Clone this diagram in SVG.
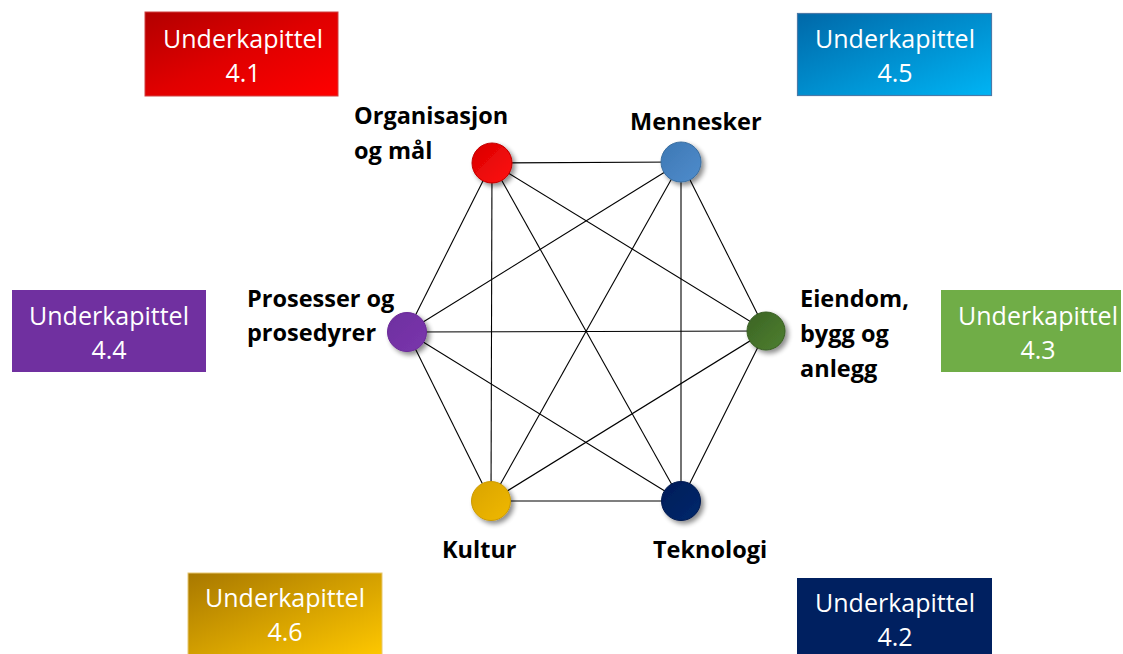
<svg xmlns="http://www.w3.org/2000/svg" width="1123" height="654" viewBox="0 0 1123 654">
  <style>
    .box-text { font-family: "Open Sans", Lato, "Liberation Sans", sans-serif; font-size: 25px; fill: #ffffff; text-anchor: middle; }
    .label { font-family: "Open Sans", Lato, "Liberation Sans", sans-serif; font-size: 23.5px; font-weight: bold; fill: #000000; }
    .edge { stroke: #000000; stroke-width: 1.1; fill: none; }
    .node { filter: url(#shadow); stroke-width: 1; }
  </style>
  <defs>
    <filter id="shadow" x="-50%" y="-50%" width="200%" height="200%">
      <feGaussianBlur in="SourceAlpha" stdDeviation="2.5"/>
      <feOffset dx="3" dy="3" result="b"/>
      <feComponentTransfer><feFuncA type="linear" slope="0.45"/></feComponentTransfer>
      <feMerge><feMergeNode/><feMergeNode in="SourceGraphic"/></feMerge>
    </filter>
    <linearGradient id="gRed" x1="0" y1="0" x2="1" y2="1">
      <stop offset="0" stop-color="#b20000"/><stop offset="0.5" stop-color="#e00000"/><stop offset="1" stop-color="#ff0000"/>
    </linearGradient>
    <linearGradient id="gBlue" x1="0" y1="0" x2="1" y2="1">
      <stop offset="0" stop-color="#0068a8"/><stop offset="1" stop-color="#00b4f4"/>
    </linearGradient>
    <linearGradient id="gGold" x1="0" y1="0" x2="1" y2="1">
      <stop offset="0" stop-color="#a87800"/><stop offset="1" stop-color="#ffc800"/>
    </linearGradient>
    <linearGradient id="nRed" x1="0" y1="0" x2="1" y2="1">
      <stop offset="0" stop-color="#d80000"/><stop offset="1" stop-color="#ff1010"/>
    </linearGradient>
    <linearGradient id="nBlue" x1="0" y1="0" x2="1" y2="1">
      <stop offset="0" stop-color="#3d78b4"/><stop offset="1" stop-color="#4f8ccc"/>
    </linearGradient>
    <linearGradient id="nPurple" x1="0" y1="0" x2="1" y2="1">
      <stop offset="0" stop-color="#6e2ea0"/><stop offset="1" stop-color="#7a36ac"/>
    </linearGradient>
    <linearGradient id="nGreen" x1="0" y1="0" x2="1" y2="1">
      <stop offset="0" stop-color="#3b6424"/><stop offset="1" stop-color="#4e7f30"/>
    </linearGradient>
    <linearGradient id="nGold" x1="0" y1="0" x2="1" y2="1">
      <stop offset="0" stop-color="#d9a400"/><stop offset="1" stop-color="#f0b800"/>
    </linearGradient>
    <linearGradient id="nNavy" x1="0" y1="0" x2="1" y2="1">
      <stop offset="0" stop-color="#001c58"/><stop offset="1" stop-color="#06286c"/>
    </linearGradient>
  </defs>

  <rect width="1123" height="654" fill="#ffffff"/>

  <!-- chapter boxes -->
  <g id="box-4-1">
    <rect x="145" y="12" width="193" height="84" fill="url(#gRed)" stroke="#d04040" stroke-width="1"/>
    <text class="box-text" x="243" y="48">Underkapittel</text>
    <text class="box-text" x="243" y="82">4.1</text>
  </g>
  <g id="box-4-5">
    <rect x="797.5" y="13.5" width="194" height="82" fill="url(#gBlue)" stroke="#4a7aa8" stroke-width="1.2"/>
    <text class="box-text" x="895" y="48">Underkapittel</text>
    <text class="box-text" x="895" y="82">4.5</text>
  </g>
  <g id="box-4-4">
    <rect x="12" y="290" width="194" height="82" fill="#7030a0"/>
    <text class="box-text" x="109" y="325">Underkapittel</text>
    <text class="box-text" x="109" y="359">4.4</text>
  </g>
  <g id="box-4-3">
    <rect x="941" y="290" width="180" height="82" fill="#70ad47"/>
    <text class="box-text" x="1038" y="325">Underkapittel</text>
    <text class="box-text" x="1038" y="359">4.3</text>
  </g>
  <g id="box-4-6">
    <rect x="188" y="573" width="194" height="84" fill="url(#gGold)" stroke="#e8c870" stroke-width="1"/>
    <text class="box-text" x="285" y="607">Underkapittel</text>
    <text class="box-text" x="285" y="641">4.6</text>
  </g>
  <g id="box-4-2">
    <rect x="797" y="578" width="195" height="80" fill="#002060"/>
    <text class="box-text" x="895" y="612">Underkapittel</text>
    <text class="box-text" x="895" y="646">4.2</text>
  </g>

  <!-- connectors: every pair of nodes -->
  <g id="connectors" class="edge">
    <line x1="492" y1="163" x2="681" y2="162"/>
    <line x1="492" y1="163" x2="407" y2="332"/>
    <line x1="492" y1="163" x2="766" y2="331"/>
    <line x1="492" y1="163" x2="491" y2="501"/>
    <line x1="492" y1="163" x2="681" y2="501"/>
    <line x1="681" y1="162" x2="407" y2="332"/>
    <line x1="681" y1="162" x2="766" y2="331"/>
    <line x1="681" y1="162" x2="491" y2="501"/>
    <line x1="681" y1="162" x2="681" y2="501"/>
    <line x1="407" y1="332" x2="766" y2="331"/>
    <line x1="407" y1="332" x2="491" y2="501"/>
    <line x1="407" y1="332" x2="681" y2="501"/>
    <line x1="766" y1="331" x2="491" y2="501"/>
    <line x1="766" y1="331" x2="681" y2="501"/>
    <line x1="491" y1="501" x2="681" y2="501"/>
  </g>

  <!-- nodes -->
  <g id="node-organisasjon">
    <circle class="node" cx="492" cy="163" r="20" fill="url(#nRed)" stroke="#c00000"/>
    <text class="label" x="354" y="124">Organisasjon</text>
    <text class="label" x="354" y="159">og mål</text>
  </g>
  <g id="node-mennesker">
    <circle class="node" cx="681" cy="162" r="20" fill="url(#nBlue)" stroke="#3a6ea0"/>
    <text class="label" x="630" y="130">Mennesker</text>
  </g>
  <g id="node-prosesser">
    <circle class="node" cx="407" cy="332" r="19.5" fill="url(#nPurple)" stroke="#6a2a98"/>
    <text class="label" x="247" y="307">Prosesser og</text>
    <text class="label" x="247" y="341">prosedyrer</text>
  </g>
  <g id="node-eiendom">
    <circle class="node" cx="766" cy="331" r="19" fill="url(#nGreen)" stroke="#385e22"/>
    <text class="label" x="800" y="307">Eiendom,</text>
    <text class="label" x="800" y="342">bygg og</text>
    <text class="label" x="800" y="377">anlegg</text>
  </g>
  <g id="node-kultur">
    <circle class="node" cx="491" cy="501" r="19.5" fill="url(#nGold)" stroke="#cc9a00"/>
    <text class="label" x="442" y="558">Kultur</text>
  </g>
  <g id="node-teknologi">
    <circle class="node" cx="681" cy="501" r="19.5" fill="url(#nNavy)" stroke="#001a50"/>
    <text class="label" x="653" y="558">Teknologi</text>
  </g>
</svg>
